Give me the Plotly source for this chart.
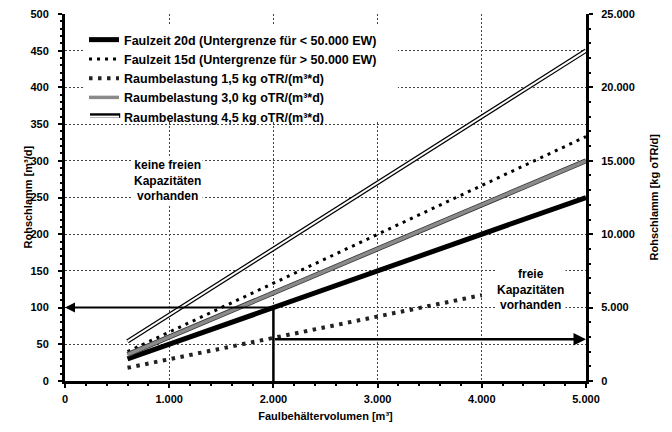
import plotly.graph_objects as go

# ---- data ----
volume = [600, 5000]            # Faulbehältervolumen [m³]
volume_15 = [600, 4000]
faulzeit_20d = [30, 250]        # Rohschlamm [m³/d]
faulzeit_15d = [40, 333]
raum_1_5 = [18, 117]
raum_3_0 = [36, 300]
raum_4_5 = [54, 450]

names = [
    "Faulzeit 20d (Untergrenze für < 50.000 EW)",
    "Faulzeit 15d (Untergrenze für > 50.000 EW)",
    "Raumbelastung 1,5 kg oTR/(m³*d)",
    "Raumbelastung 3,0 kg oTR/(m³*d)",
    "Raumbelastung 4,5 kg oTR/(m³*d)",
]

example_volume = 2000
example_flow = 100
free_level = 57

x_ticks = [0, 1000, 2000, 3000, 4000, 5000]
y_ticks = list(range(0, 501, 50))
y2_ticks = [0, 5000, 10000, 15000, 20000, 25000]

FONT = "Liberation Sans, Arial, sans-serif"

fig = go.Figure()

fig.add_trace(go.Scatter(x=volume, y=faulzeit_20d, mode="lines", name=names[0],
                         line=dict(color="black", width=5)))
fig.add_trace(go.Scatter(x=volume, y=faulzeit_15d, mode="lines", name=names[1],
                         line=dict(color="black", width=3, dash="3px,5px")))
fig.add_trace(go.Scatter(x=volume_15, y=raum_1_5, mode="lines", name=names[2],
                         line=dict(color="#222", width=4, dash="3.5px,5.5px")))
fig.add_trace(go.Scatter(x=volume, y=raum_3_0, mode="lines", showlegend=False,
                         line=dict(color="#333", width=5), hoverinfo="skip"))
fig.add_trace(go.Scatter(x=volume, y=raum_3_0, mode="lines", name=names[3],
                         line=dict(color="#8a8a8a", width=3.5)))
fig.add_trace(go.Scatter(x=volume, y=raum_4_5, mode="lines", showlegend=False,
                         line=dict(color="black", width=4.5), hoverinfo="skip"))
fig.add_trace(go.Scatter(x=volume, y=raum_4_5, mode="lines", name=names[4],
                         line=dict(color="white", width=2)))

fig.add_trace(go.Scatter(x=[example_volume, example_volume], y=[0, example_flow],
                         mode="lines", showlegend=False, hoverinfo="skip",
                         line=dict(color="black", width=2.5)))
fig.add_trace(go.Scatter(x=[None], y=[None], yaxis="y2", showlegend=False))

fig.add_annotation(x=0, y=example_flow, ax=example_volume, ay=example_flow,
                   xref="x", yref="y", axref="x", ayref="y", text="",
                   showarrow=True, arrowhead=2, arrowsize=1, arrowwidth=2, arrowcolor="black")
fig.add_annotation(x=5000, y=free_level, ax=example_volume, ay=free_level,
                   xref="x", yref="y", axref="x", ayref="y", text="",
                   showarrow=True, arrowhead=2, arrowsize=1, arrowwidth=2.5, arrowcolor="black")

fig.add_annotation(x=980, y=273, xref="x", yref="y",
                   text="keine freien<br>Kapazitäten<br>vorhanden",
                   showarrow=False, bgcolor="white",
                   font=dict(family=FONT, size=12, color="black", weight="bold"))
fig.add_annotation(x=4470, y=124, xref="x", yref="y",
                   text="freie<br>Kapazitäten<br>vorhanden",
                   showarrow=False, bgcolor="white",
                   font=dict(family=FONT, size=12, color="black", weight="bold"))

tickfont = dict(family=FONT, size=11, color="black", weight="bold")
titlefont = dict(family=FONT, size=11, color="black", weight="bold")

# y-axis titles (rotated), placed beside the axes
fig.add_annotation(x=0, y=0.5, xref="paper", yref="paper", xanchor="center", yanchor="middle",
                   xshift=-38, text="Rohschlamm [m³/d]", textangle=-90, showarrow=False,
                   font=titlefont)
fig.add_annotation(x=1, y=0.5, xref="paper", yref="paper", xanchor="center", yanchor="middle",
                   xshift=67, text="Rohschlamm [kg oTR/d]", textangle=-90, showarrow=False,
                   font=titlefont)

# legend background and double-line sample underlay (paper coordinates)
fig.add_shape(type="rect", xref="paper", yref="paper", x0=0.0345, x1=0.639, y0=0.706, y1=0.970,
              fillcolor="white", line=dict(width=0), layer="above")
fig.add_shape(type="line", xref="paper", yref="paper", x0=0.048, x1=0.106, y0=0.7234, y1=0.7234,
              line=dict(color="black", width=4.5), layer="above")

grid = dict(showgrid=True, gridcolor="#444", griddash="2px,2px", gridwidth=1)

fig.update_layout(
    width=672, height=432,
    margin=dict(l=57, r=94, t=6, b=59),
    paper_bgcolor="white", plot_bgcolor="white",
    separators=",.",
    showlegend=True,
    legend=dict(x=0.0365, y=0.97, xanchor="left", yanchor="top",
                bgcolor="rgba(0,0,0,0)", borderwidth=0, itemwidth=30,
                font=dict(family=FONT, size=12.5, color="black", weight="bold"),
                tracegroupgap=0),
    xaxis=dict(range=[0, 5000], tickvals=x_ticks, tickformat=",d", automargin=False,
               showline=True, linecolor="black", linewidth=3,
               ticks="outside", ticklen=4, tickwidth=2, tickcolor="black",
               minor=dict(dtick=200, ticks="outside", ticklen=2, tickcolor="black", showgrid=False),
               zeroline=False, tickfont=tickfont, ticklabelstandoff=2, ticklabeloverflow="allow",
               title=dict(text="Faulbehältervolumen [m³]", font=titlefont, standoff=9), **grid),
    yaxis=dict(range=[0, 500], tickvals=y_ticks, automargin=False,
               showline=True, linecolor="black", linewidth=3,
               ticks="outside", ticklen=4, tickwidth=2, tickcolor="black",
               minor=dict(dtick=10, ticks="outside", ticklen=2, tickcolor="black", showgrid=False),
               zeroline=False, tickfont=tickfont, ticklabelstandoff=7, ticklabeloverflow="allow",
               **grid),
    yaxis2=dict(range=[0, 25000], tickvals=y2_ticks, tickformat=",d", automargin=False,
                overlaying="y", side="right", anchor="x",
                showline=True, linecolor="black", linewidth=3,
                ticks="outside", ticklen=4, tickwidth=2, tickcolor="black",
                minor=dict(dtick=1000, ticks="outside", ticklen=2, tickcolor="black", showgrid=False),
                showgrid=False, zeroline=False, tickfont=tickfont, ticklabelstandoff=6,
                ticklabeloverflow="allow"),
)

fig.write_html("out.html")
